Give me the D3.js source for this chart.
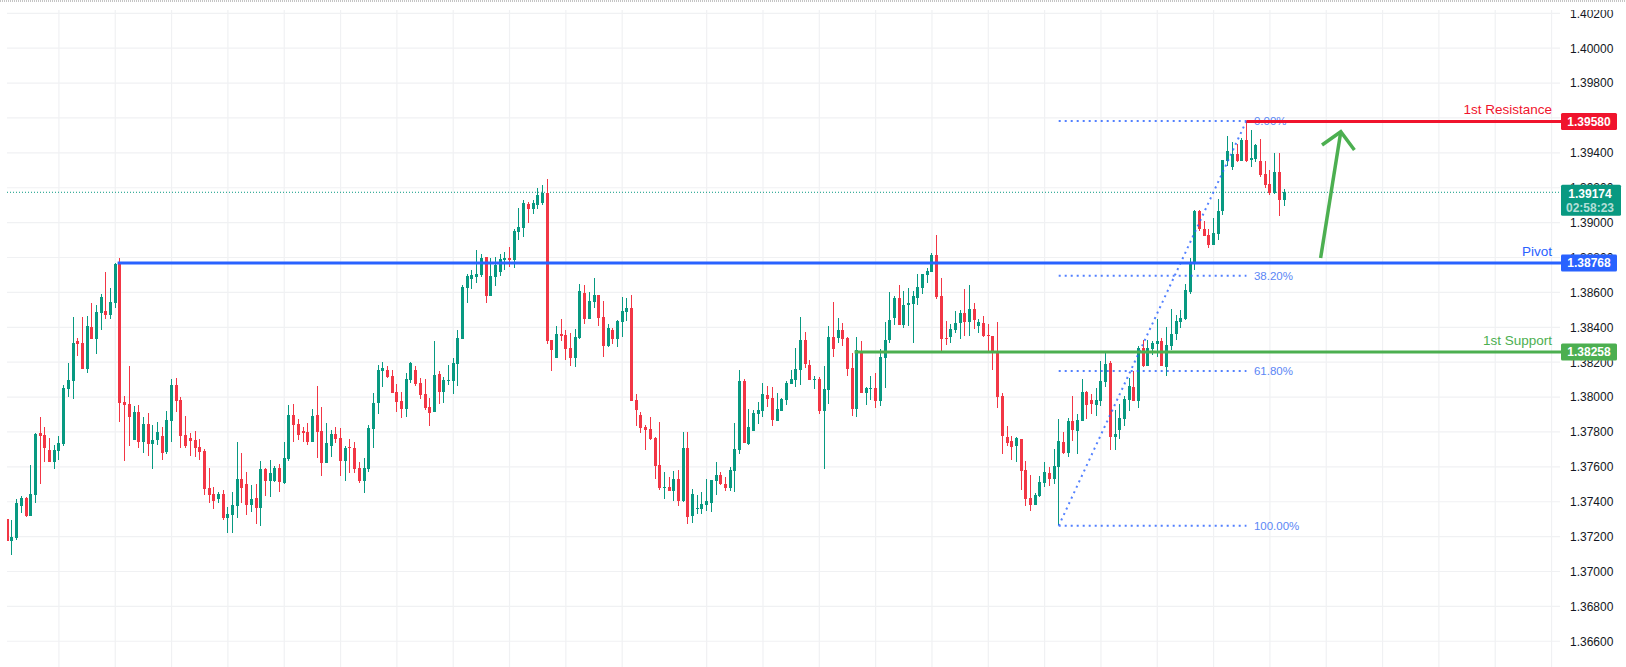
<!DOCTYPE html>
<html>
<head>
<meta charset="utf-8">
<title>Chart</title>
<script src="https://d3js.org/d3.v7.min.js"></script>
<style>
  html, body { margin: 0; padding: 0; background: #fff; overflow: hidden; }
  svg { display: block; font-family: "Liberation Sans", Arial, sans-serif; }
</style>
</head>
<body>
<div id="chart"></div>
<script>
// candle values, in 0.00001 price units
const opens = [
  137301,137175,137192,137376,137421,137318,137439,137794,137783,137697,
  137628,137691,137731,138046,138092,138322,138310,138161,138402,138333,
  138482,138494,138471,138539,138767,137972,137960,137754,137915,137743,
  137846,137731,137754,137777,137685,137863,138069,137983,137783,137766,
  137754,137714,137691,137479,137445,137416,137445,137307,137324,137376,
  137530,137502,137381,137421,137364,137588,137519,137519,137594,137507,
  137645,137897,137845,137805,137800,137742,137897,137805,137622,137719,
  137788,137765,137633,137714,137708,137593,137519,137588,137817,137966,
  138149,138155,138121,138029,137977,137931,138098,138155,138081,138017,
  137943,137914,138132,138029,138092,138092,138189,138333,138625,138677,
  138688,138700,138803,138579,138688,138717,138786,138797,138786,138946,
  138969,139107,139078,139100,139115,139170,138327,138224,138361,138356,
  138281,138224,138339,138596,138447,138545,138585,138459,138293,138384,
  138333,138430,138487,138510,137983,137897,137828,137817,137765,137610,
  137479,137485,137461,137530,137404,137708,137318,137358,137358,137381,
  137393,137519,137553,137502,137479,137576,137696,138092,137731,137805,
  137903,137920,138012,137995,137863,137920,137983,138075,138098,138155,
  138327,138184,138098,138103,137920,138040,138344,138338,138384,138338,
  138167,137931,138264,138023,138046,138052,137977,138224,138327,138453,
  138568,138413,138528,138533,138568,138625,138700,138717,138814,138579,
  138338,138344,138384,138425,138482,138430,138505,138407,138425,138356,
  138350,138258,138006,137771,137748,137719,137759,137581,137421,137381,
  137432,137507,137564,137530,137599,137742,137679,137862,137805,137863,
  138029,137983,137954,137977,138086,138195,137771,137811,137874,137983,
  138058,137977,138281,138178,138276,138304,138321,138172,138293,138361,
  138430,138447,138602,138768,139067,138963,138929,138872,138935,139067,
  139353,139319,139393,139353,139474,139359,139365,139353,139279,139221,
  139170,139290,139130
]
const highs = [
  137301,137295,137414,137433,137427,137611,137794,137886,137829,137766,
  137725,137777,138069,138196,138459,138339,138459,138465,138539,138528,
  138591,138717,138625,138769,138798,138006,138178,137949,137955,137886,
  137909,137840,137857,137829,137920,138104,138110,137999,137892,137794,
  137806,137760,137703,137594,137485,137456,137468,137370,137456,137743,
  137679,137571,137496,137502,137634,137594,137639,137605,137616,137743,
  137954,137960,137874,137828,137851,137931,138063,137943,137851,137811,
  137828,137823,137719,137760,137742,137628,137651,137840,138023,138184,
  138201,138178,138155,138075,138029,138138,138201,138178,138109,138103,
  137995,138321,138149,138115,138184,138224,138384,138642,138705,138728,
  138843,138820,138803,138797,138803,138820,138832,138860,138963,139084,
  139130,139118,139130,139200,139215,139250,138327,138407,138447,138384,
  138367,138390,138648,138642,138602,138682,138585,138551,138419,138396,
  138442,138574,138568,138585,138017,137914,137840,137886,137771,137857,
  137570,137542,137576,137582,137800,137800,137473,137439,137456,137530,
  137525,137628,137571,137542,137599,137849,138155,138103,137931,137926,
  137972,138081,138063,138057,138023,137995,138092,138155,138281,138459,
  138373,138212,138121,138115,138178,138407,138545,138453,138425,138344,
  138253,138344,138321,138058,138121,138138,138275,138430,138602,138579,
  138642,138608,138625,138608,138705,138705,138740,138826,138929,138682,
  138436,138419,138493,138499,138619,138642,138539,138447,138465,138419,
  138350,138430,138023,137834,137777,137771,137759,137633,137553,137450,
  137547,137627,137599,137702,137874,137799,137880,138006,137902,138103,
  138035,138017,138052,138207,138258,138207,137926,137960,138006,138109,
  138149,138293,138327,138327,138321,138447,138338,138402,138505,138470,
  138499,138648,138797,139072,139072,139009,138963,139027,139135,139359,
  139497,139462,139451,139485,139583,139531,139451,139479,139353,139302,
  139399,139399,139193
]
const lows = [
  137175,137095,137181,137335,137311,137318,137393,137502,137628,137628,
  137588,137639,137720,138001,137989,138236,138161,138138,138333,138247,
  138385,138448,138448,138511,137857,137634,137720,137754,137708,137680,
  137662,137588,137725,137639,137674,137743,137915,137708,137708,137662,
  137657,137639,137439,137393,137359,137393,137295,137221,137221,137307,
  137393,137324,137341,137272,137261,137433,137427,137513,137456,137502,
  137633,137742,137754,137742,137725,137742,137651,137547,137622,137656,
  137737,137547,137519,137565,137565,137507,137450,137570,137708,137903,
  138058,138109,138023,137914,137880,137886,138081,138063,137989,137926,
  137834,137914,137960,137966,138069,138017,138063,138333,138539,138619,
  138654,138688,138539,138579,138637,138694,138728,138746,138740,138900,
  138918,138998,139050,139080,139100,138304,138149,138224,138321,138212,
  138178,138172,138333,138419,138447,138510,138407,138230,138287,138304,
  138287,138344,138436,137977,137834,137794,137696,137754,137530,137467,
  137415,137462,137404,137375,137398,137272,137278,137330,137330,137347,
  137341,137439,137496,137462,137462,137456,137673,137737,137725,137805,
  137846,137886,137943,137834,137863,137920,137954,138075,138058,138069,
  138167,138098,138046,137903,137587,137960,138230,138310,138293,138121,
  137891,137886,138023,137954,137983,137937,137949,138052,138310,138413,
  138413,138396,138407,138310,138528,138591,138654,138717,138562,138264,
  138298,138310,138367,138333,138350,138350,138390,138367,138344,138264,
  138155,137937,137673,137719,137639,137627,137467,137375,137346,137381,
  137427,137484,137490,137501,137266,137673,137656,137748,137673,137863,
  137874,137903,137891,137949,138058,137696,137696,137760,137834,137920,
  137977,137937,138172,138178,138241,138230,138178,138121,138270,138327,
  138396,138442,138591,138728,138952,138923,138855,138872,138900,139044,
  139325,139302,139347,139353,139347,139319,139347,139262,139198,139158,
  139164,139038,139095
]
const closes = [
  137175,137198,137393,137421,137316,137444,137789,137777,137708,137628,
  137697,137737,138052,138098,138310,138304,138161,138408,138333,138488,
  138574,138471,138545,138763,137966,137955,137886,137915,137743,137846,
  137731,137754,137800,137680,137869,138069,137978,137777,137720,137748,
  137708,137685,137473,137439,137404,137445,137307,137330,137381,137530,
  137479,137381,137416,137364,137588,137519,137565,137594,137513,137651,
  137897,137840,137782,137794,137742,137891,137800,137622,137737,137788,
  137759,137633,137708,137708,137588,137519,137593,137823,137966,138155,
  138166,138115,138023,137972,137931,138103,138195,138075,138012,137937,
  137909,138126,138029,138098,138098,138195,138339,138631,138694,138700,
  138705,138797,138579,138694,138757,138791,138797,138786,138952,138975,
  139112,139078,139110,139160,139170,138323,138270,138361,138350,138275,
  138224,138344,138608,138447,138551,138585,138453,138293,138396,138333,
  138436,138493,138510,137977,137926,137823,137811,137760,137605,137479,
  137484,137462,137530,137404,137708,137313,137444,137364,137387,137404,
  137525,137553,137502,137479,137582,137702,138092,137737,137828,137908,
  137926,138017,137989,137868,137931,137989,138080,138103,138161,138327,
  138189,138098,138103,137920,138046,138344,138275,138384,138333,138161,
  137931,138270,138023,138052,138052,137977,138230,138327,138442,138568,
  138413,138528,138539,138579,138631,138705,138723,138814,138574,138333,
  138333,138390,138425,138482,138430,138505,138442,138430,138350,138350,
  138253,138000,137777,137737,137714,137765,137576,137415,137381,137438,
  137513,137570,137530,137604,137748,137679,137862,137811,137868,138029,
  137954,137960,137983,138092,138189,137771,137788,137880,137989,138063,
  137977,138281,138178,138281,138310,138321,138178,138298,138361,138436,
  138453,138614,138768,139067,138963,138923,138872,138941,139067,139359,
  139411,139393,139353,139474,139353,139370,139445,139273,139216,139170,
  139290,139130,139174
]

// axis ticks and vertical grid positions (candle index)
const priceTicks = [1.402,1.400,1.398,1.396,1.394,1.392,1.390,1.388,1.386,1.384,1.382,1.380,1.378,1.376,1.374,1.372,1.370,1.368,1.366]
const timeGrid = [11,23,35,47,59,71,83,95,107,119,131,149,161,173,185,197,209,221,233,245,257,269,281,293,305,317,329]

// horizontal levels
const levelNames = ['1st Resistance', 'Pivot', '1st Support']
const levelPrices = [1.39580, 1.38768, 1.38258]
const levelStarts = [264, 23.5, 180.5]
const levelColors = ['#f0142d', '#2962ff', '#4caf50']

// fibonacci retracement
const fibNames = ['0.00%', '38.20%', '61.80%', '100.00%']
const fibPrices = [1.39583, 1.38696, 1.38149, 1.37262]
const fibStart = 224
const fibEnd = 264

// arrow: shaft start, tip, head left, head right (candle index / price)
const arrowIdx = [279.8, 284.1, 280.1, 287]
const arrowPrice = [1.38797, 1.39521, 1.39445, 1.39416]

const lastPrice = 1.39174
const lastCountdown = '02:58:23'

const config = {
  width: 1626,
  height: 667,
  plot: { left: 7, right: 1560, top: 10, bottom: 667 },
  up: '#089981',
  down: '#f23645',
  grid: '#f0f1f3',
  text: '#131722',
  fib: '#2962ff',
}

const x = d3.scaleLinear().domain([0, 272]).range([7.3, 1284])
const y = d3.scaleLinear().domain([1.40, 1.37]).range([48.2, 571.5])
const fmt = d3.format('.5f')

const svg = d3.select('#chart')
  .append('svg')
  .attr('width', config.width)
  .attr('height', config.height)

// strip at the very top of the screenshot
svg.append('line')
  .attr('x1', 0).attr('x2', config.width)
  .attr('y1', 1).attr('y2', 1)
  .attr('stroke', '#c4c4c4')
  .attr('stroke-width', 2)
  .attr('stroke-dasharray', '1 1')

const defs = svg.append('defs')
defs.append('clipPath').attr('id', 'plot-clip').append('rect')
  .attr('x', config.plot.left).attr('y', config.plot.top)
  .attr('width', config.plot.right - config.plot.left)
  .attr('height', config.plot.bottom - config.plot.top)

const plot = svg.append('g').attr('clip-path', 'url(#plot-clip)')

// grid
plot.append('g').selectAll('line')
  .data(timeGrid)
  .enter()
  .append('line')
  .attr('x1', d => x(d)).attr('x2', d => x(d))
  .attr('y1', config.plot.top).attr('y2', config.plot.bottom)
  .attr('stroke', config.grid)
  .attr('stroke-width', 1.2)

plot.append('g').selectAll('line')
  .data(priceTicks)
  .enter()
  .append('line')
  .attr('x1', config.plot.left).attr('x2', config.plot.right)
  .attr('y1', d => y(d)).attr('y2', d => y(d))
  .attr('stroke', config.grid)
  .attr('stroke-width', 1.2)

// price axis
const axis = svg.append('g')
  .attr('transform', `translate(${config.plot.right},0)`)
  .call(d3.axisRight(y).tickValues(priceTicks).tickSize(0).tickPadding(10).tickFormat(fmt))
axis.select('.domain').remove()
axis.selectAll('text')
  .attr('fill', config.text)
  .style('font-size', '12px')
  .style('font-family', '"Liberation Sans", Arial, sans-serif')

// hide the top of the first label the way the chart pane cuts it
svg.append('rect')
  .attr('x', config.plot.right).attr('y', 3)
  .attr('width', config.width - config.plot.right)
  .attr('height', config.plot.top - 3)
  .attr('fill', '#fff')

// last price line
plot.append('line')
  .attr('x1', config.plot.left).attr('x2', config.plot.right)
  .attr('y1', y(lastPrice)).attr('y2', y(lastPrice))
  .attr('stroke', config.up)
  .attr('stroke-width', 1)
  .attr('stroke-dasharray', '1 2')

// candles
const candles = plot.append('g').selectAll('g')
  .data(d3.range(opens.length))
  .enter()
  .append('g')
  .attr('fill', i => closes[i] >= opens[i] ? config.up : config.down)
  .attr('shape-rendering', 'crispEdges')

candles.append('rect')
  .attr('class', 'wick')
  .attr('x', i => x(i) - 0.5)
  .attr('width', 1)
  .attr('y', i => y(highs[i] / 1e5))
  .attr('height', i => y(lows[i] / 1e5) - y(highs[i] / 1e5))

candles.append('rect')
  .attr('class', 'body')
  .attr('x', i => x(i) - 1.5)
  .attr('width', 3)
  .attr('y', i => y(Math.max(opens[i], closes[i]) / 1e5))
  .attr('height', i => Math.max(1, Math.abs(y(opens[i] / 1e5) - y(closes[i] / 1e5))))

// fibonacci dotted levels and trend line
const fib = plot.append('g')
  .attr('stroke', config.fib)
  .attr('stroke-width', 2)
  .attr('stroke-dasharray', '2 4')
  .attr('opacity', 0.8)
  .attr('fill', 'none')

fib.selectAll('line')
  .data(fibPrices)
  .enter()
  .append('line')
  .attr('x1', x(fibStart)).attr('x2', x(fibEnd))
  .attr('y1', d => y(d)).attr('y2', d => y(d))

fib.append('line')
  .attr('x1', x(fibStart)).attr('y1', y(fibPrices[3]))
  .attr('x2', x(fibEnd)).attr('y2', y(fibPrices[0]))

svg.append('g').selectAll('text')
  .data(fibNames)
  .enter()
  .append('text')
  .attr('x', x(fibEnd) + 7.5)
  .attr('y', (d, i) => y(fibPrices[i]))
  .attr('dy', '0.35em')
  .attr('fill', '#5b86f5')
  .style('font-size', '11.5px')
  .text(d => d)

// level lines, captions and price tags
svg.append('g').selectAll('line')
  .data(levelPrices)
  .enter()
  .append('line')
  .attr('x1', (d, i) => x(levelStarts[i])).attr('x2', config.plot.right + 1)
  .attr('y1', d => y(d)).attr('y2', d => y(d))
  .attr('stroke', (d, i) => levelColors[i])
  .attr('stroke-width', 3)

svg.append('g').selectAll('text')
  .data(levelNames)
  .enter()
  .append('text')
  .attr('x', 1552)
  .attr('y', (d, i) => y(levelPrices[i]) - 12)
  .attr('dy', '0.35em')
  .attr('text-anchor', 'end')
  .attr('fill', (d, i) => levelColors[i])
  .style('font-size', '13.5px')
  .text(d => d)

const tags = svg.append('g').selectAll('g')
  .data(levelPrices)
  .enter()
  .append('g')

tags.append('rect')
  .attr('x', 1561).attr('width', 56)
  .attr('y', d => y(d) - 8.5).attr('height', 17)
  .attr('rx', 1.5)
  .attr('fill', (d, i) => levelColors[i])

tags.append('text')
  .attr('x', 1589)
  .attr('y', d => y(d))
  .attr('dy', '0.35em')
  .attr('text-anchor', 'middle')
  .attr('fill', '#fff')
  .style('font-size', '12px')
  .style('font-weight', 'bold')
  .text(d => fmt(d))

// last price tag with countdown
const lastTag = svg.append('g')
lastTag.append('rect')
  .attr('x', 1561).attr('width', 60)
  .attr('y', y(lastPrice) - 7.5).attr('height', 31)
  .attr('rx', 1.5)
  .attr('fill', config.up)
lastTag.append('text')
  .attr('x', 1590)
  .attr('y', y(lastPrice) + 1.5)
  .attr('dy', '0.35em')
  .attr('text-anchor', 'middle')
  .attr('fill', '#fff')
  .style('font-size', '12px')
  .style('font-weight', 'bold')
  .text(fmt(lastPrice))
lastTag.append('text')
  .attr('x', 1590)
  .attr('y', y(lastPrice) + 15.5)
  .attr('dy', '0.35em')
  .attr('text-anchor', 'middle')
  .attr('fill', '#fff')
  .attr('fill-opacity', 0.7)
  .style('font-size', '12px')
  .style('font-weight', 'bold')
  .text(lastCountdown)

// green arrow
const arrowLine = d3.line().x(i => x(arrowIdx[i])).y(i => y(arrowPrice[i]))
svg.append('path')
  .attr('d', arrowLine([0, 1]))
  .attr('stroke', '#4caf50').attr('stroke-width', 3.5).attr('fill', 'none')
svg.append('path')
  .attr('d', arrowLine([2, 1, 3]))
  .attr('stroke', '#4caf50').attr('stroke-width', 3.5).attr('fill', 'none')
</script>
</body>
</html>
